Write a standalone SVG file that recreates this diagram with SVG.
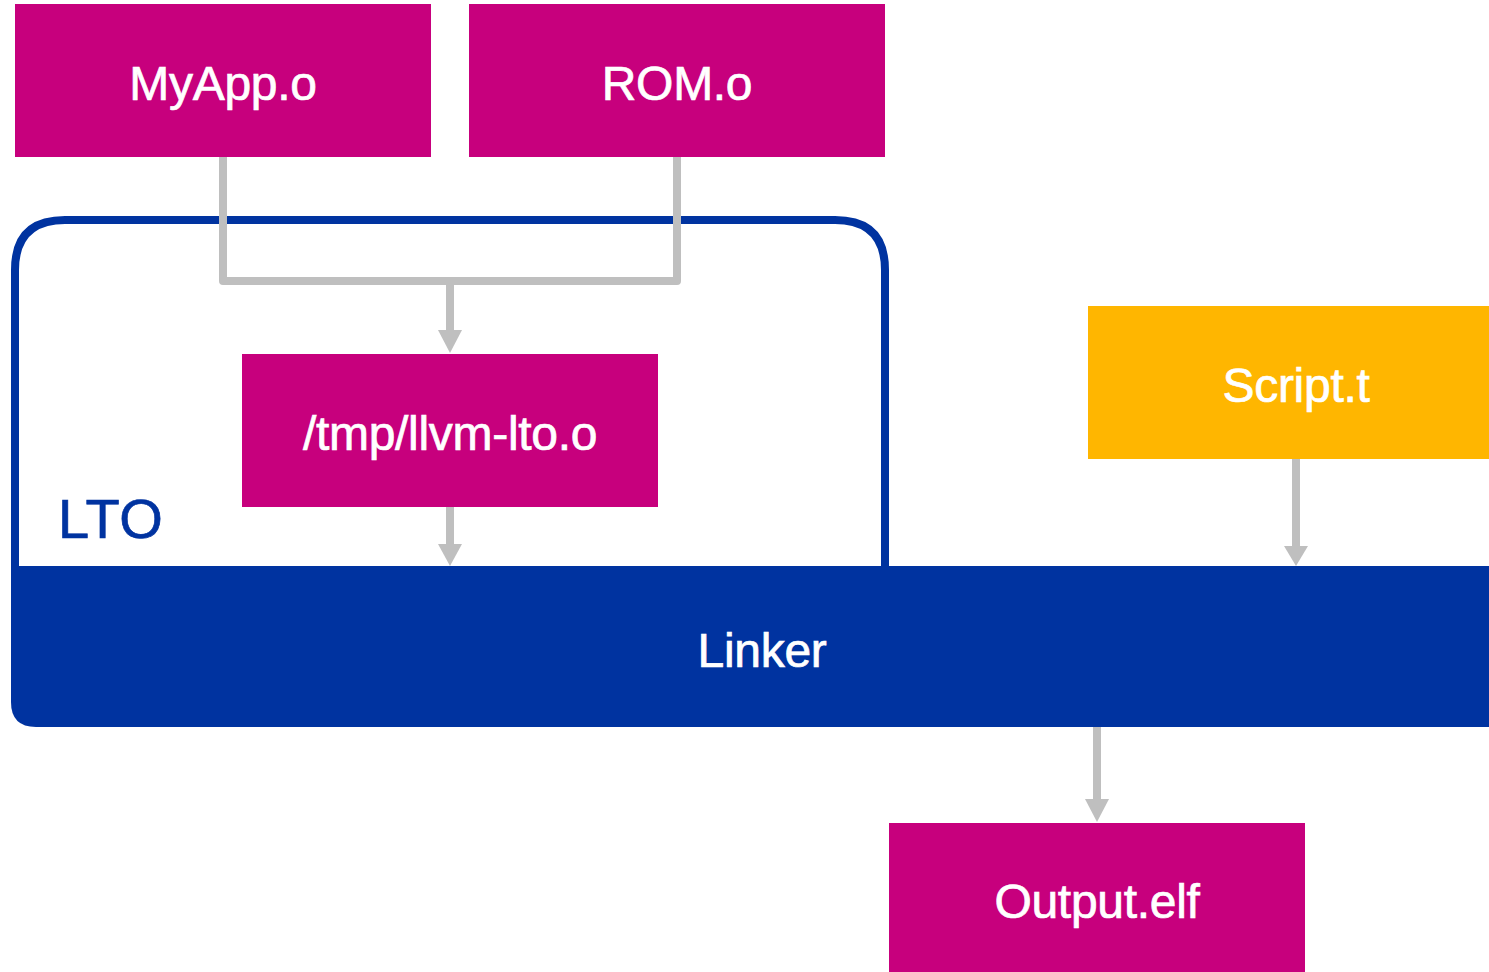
<svg xmlns="http://www.w3.org/2000/svg" width="1489" height="972" viewBox="0 0 1489 972">
<style>
.box{fill:#C7007D}
.lbl{font-family:"Liberation Sans",Arial,sans-serif;font-size:48px;fill:#ffffff;stroke:#ffffff;stroke-width:0.7px;text-anchor:middle;letter-spacing:-0.3px}
.conn{fill:none;stroke:#BFBFBF;stroke-width:8;stroke-linejoin:round;stroke-linecap:butt}
.line{fill:none;stroke:#BFBFBF;stroke-width:8}
.head{fill:#BFBFBF}
</style>
<rect width="1489" height="972" fill="#ffffff"/>
<g id="lto">
<path d="M15,566 L15,270 Q15,220 65,220 L835,220 Q885,220 885,270 L885,566" fill="none" stroke="#0033A0" stroke-width="8"/>
<text x="58" y="538" style="font-family:'Liberation Sans',Arial,sans-serif;font-size:56px;fill:#0033A0;stroke:#0033A0;stroke-width:0.7px;letter-spacing:0.5px">LTO</text>
</g>
<g id="linker">
<path d="M11,566 L1489,566 L1489,727 L36,727 Q11,727 11,702 Z" fill="#0033A0"/>
<text class="lbl" x="762" y="667">Linker</text>
</g>
<g id="myapp">
<rect class="box" x="15" y="4" width="416" height="153"/>
<text class="lbl" x="223" y="100">MyApp.o</text>
</g>
<g id="rom">
<rect class="box" x="469" y="4" width="416" height="153"/>
<text class="lbl" x="677" y="100">ROM.o</text>
</g>
<g id="llvmlto">
<rect class="box" x="242" y="354" width="416" height="153"/>
<text class="lbl" x="450" y="450">/tmp/llvm-lto.o</text>
</g>
<g id="script">
<rect x="1088" y="306" width="401" height="153" fill="#FFB600"/>
<text class="lbl" x="1296" y="402">Script.t</text>
</g>
<g id="output">
<rect class="box" x="889" y="823" width="416" height="149"/>
<text class="lbl" x="1097" y="918">Output.elf</text>
</g>
<g id="connectors">
<path class="conn" d="M223,157 L223,281 L677,281 L677,157"/>
<path class="line" d="M450,281 L450,332"/>
<path class="head" d="M438,330 L462,330 L450,353 Z"/>
<path class="line" d="M450,507 L450,546"/>
<path class="head" d="M438,544 L462,544 L450,566 Z"/>
<path class="line" d="M1296,459 L1296,548"/>
<path class="head" d="M1284,546 L1308,546 L1296,566 Z"/>
<path class="line" d="M1097,727 L1097,801"/>
<path class="head" d="M1085,799 L1109,799 L1097,822 Z"/>
</g>
</svg>
